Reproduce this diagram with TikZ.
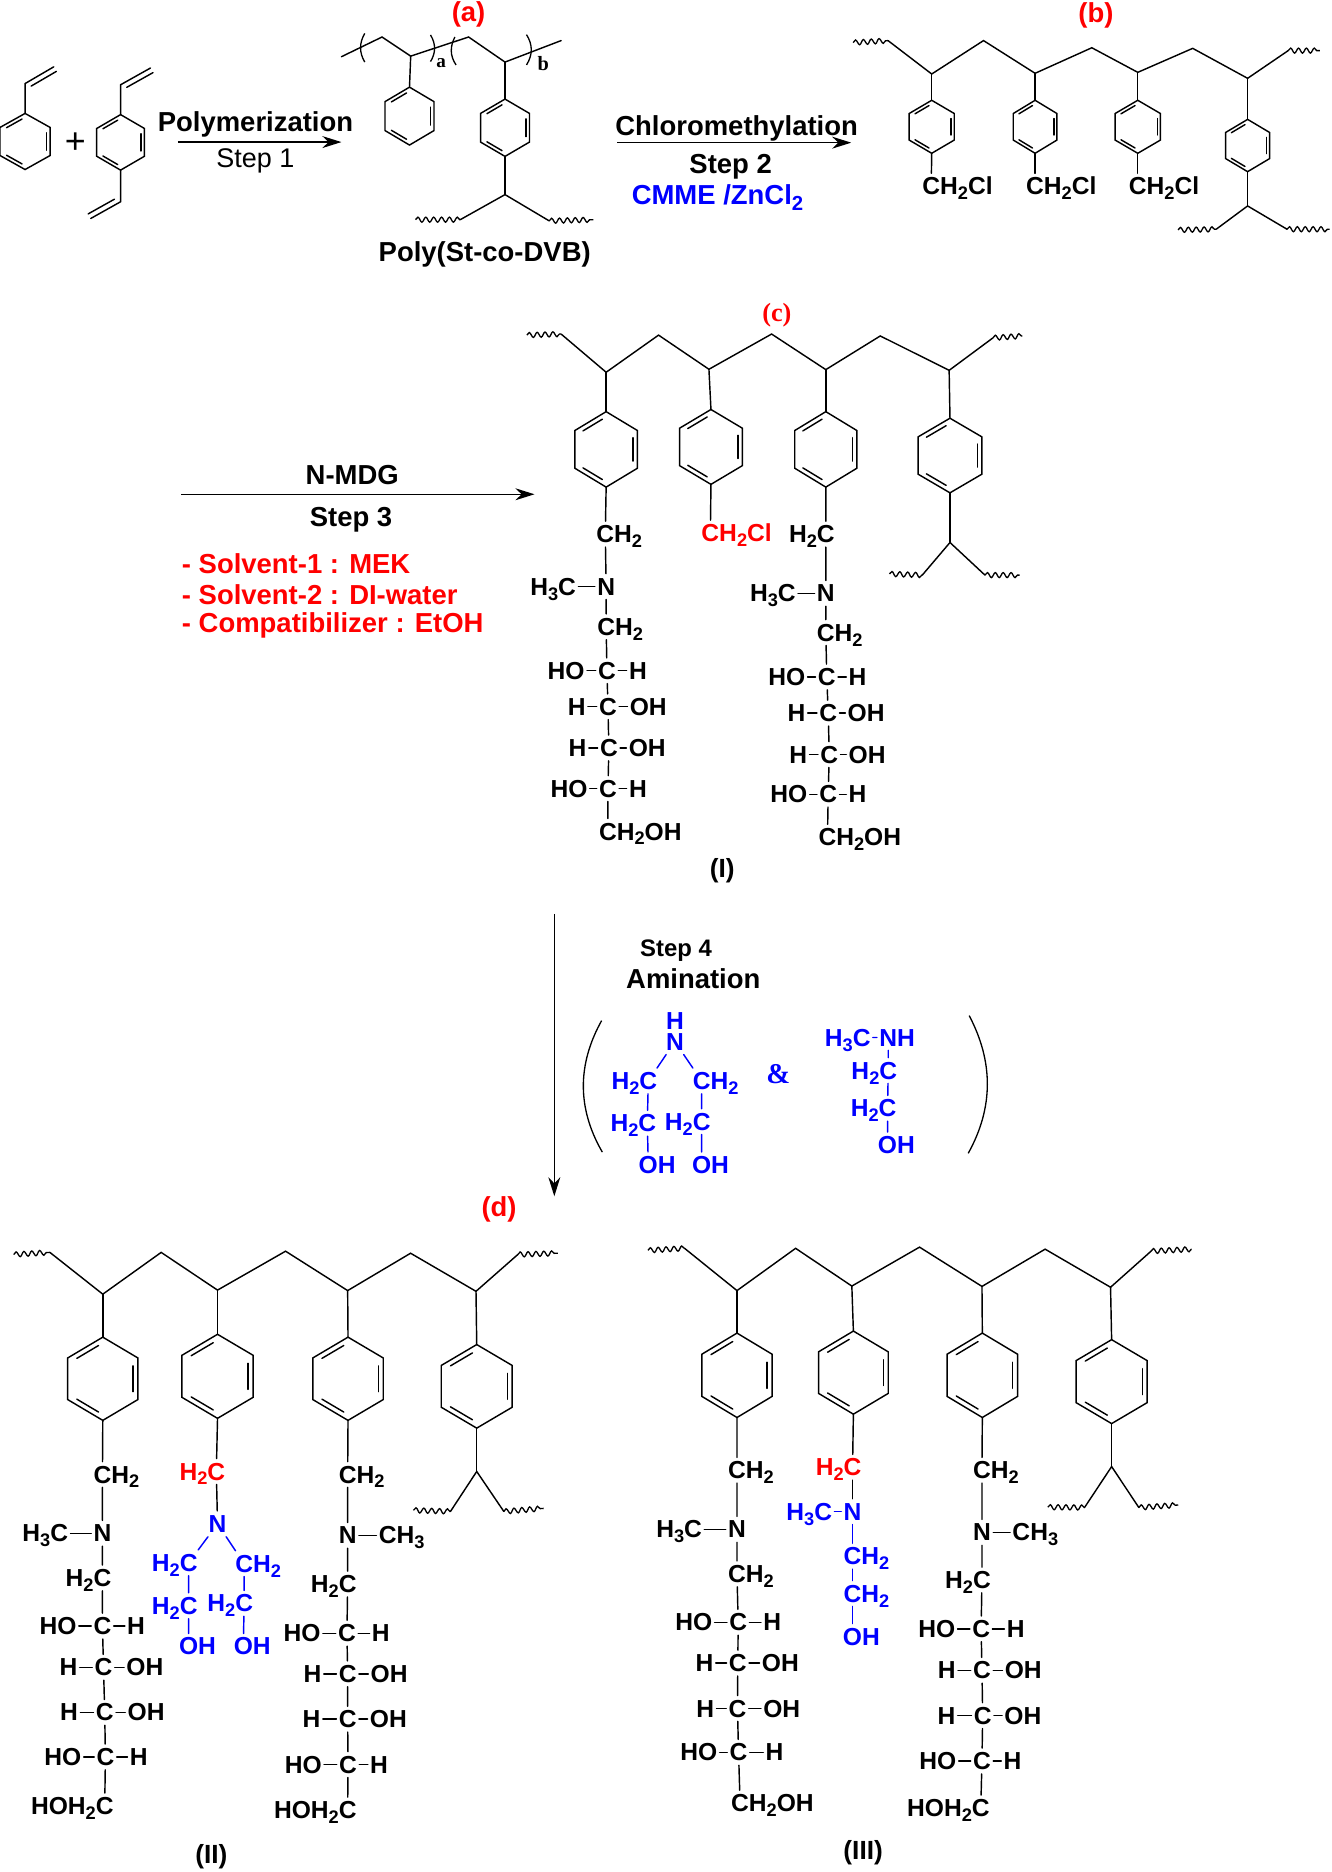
\documentclass[tikz,border=0pt]{standalone}
\usepackage{fontspec}
\setmainfont{Liberation Sans}
\newfontfamily\tms{Liberation Serif}
\usetikzlibrary{arrows.meta,calc,decorations.pathmorphing}
\newcommand\Sb[1]{\raisebox{-0.2em}{\scalebox{.74}{#1}}}
\newcommand\fatom{\fontsize{10.3}{12}\selectfont\bfseries}
\newcommand\fbig{\fontsize{11.5}{13}\selectfont\bfseries}
\tikzset{
 bond/.style={line width=0.6pt,line cap=round},
 wavy/.style={line width=0.55pt,decorate,decoration={snake,amplitude=1.05pt,segment length=3.3pt}},
 atm/.style={font=\fatom,inner xsep=0.8pt,inner ysep=1.6pt,text height=7.2pt,text depth=0pt},
 lab/.style={font=\fbig,inner sep=0pt},
 arr/.style={line width=0.6pt,-{Stealth[length=8pt,width=5pt]}}
}
% ring: name, cx, top, bottom, left
\newcommand\inbond[3]{\draw[bond] ($($(#1)!.14!(#2)$)!.14!(#3)$) -- ($($(#2)!.14!(#1)$)!.14!(#3)$);}
\newcommand\benz[5]{%
 \coordinate (#1t) at (#2,#3);
 \coordinate (#1b) at (#2,#4);
 \coordinate (#1c) at (#2,{(#3+#4)/2});
 \coordinate (#1ul) at (#5,{#3+0.25*(#4-#3)});
 \coordinate (#1ll) at (#5,{#3+0.75*(#4-#3)});
 \coordinate (#1ur) at ({2*#2-#5},{#3+0.25*(#4-#3)});
 \coordinate (#1lr) at ({2*#2-#5},{#3+0.75*(#4-#3)});
 \draw[bond] (#1t) -- (#1ur) -- (#1lr) -- (#1b) -- (#1ll) -- (#1ul) -- cycle;
 \inbond{#1t}{#1ul}{#1c}\inbond{#1ur}{#1lr}{#1c}\inbond{#1ll}{#1b}{#1c}}
\newcommand\vinyl[3]{\draw[bond] (#1) -- (#2) -- (#3);
 \draw[bond] ($(#2)!.12!(#3)!2.2pt!-90:(#3)$) -- ($(#3)!2.2pt!90:(#2)$);}
% backbone of 11 points
\newcommand\backbone[2]{%
 \foreach \x/\y [count=\i] in {#2} {\coordinate (#1\i) at (\x,\y);}
 \draw[wavy] (#11) -- (#12);
 \draw[bond] (#12) -- (#13) -- (#14) -- (#15) -- (#16) -- (#17) -- (#18) -- (#19) -- (#110);
 \draw[wavy] (#110) -- (#111);}
% crosslink: name, ring-bottom, list junction/left/right/waveL/waveR
\newcommand\xlink[3]{%
 \foreach \x/\y [count=\i] in {#3} {\coordinate (#1\i) at (\x,\y);}
 \draw[bond] (#2) -- (#11);
 \draw[bond] (#12) -- (#11) -- (#13);
 \draw[wavy] (#14) -- (#12);
 \draw[wavy] (#13) -- (#15);}
\newcommand\At[4]{\node[atm] (#1) at (#2,#3) {#4};}
\newcommand\Cc[7]{\At{#1}{#2}{#3}{C}\At{#1L}{#4}{#3}{#5}\At{#1R}{#6}{#3}{#7}%
 \draw[bond] (#1L) -- (#1) -- (#1R);}
% parenthesis: start x,y; x of the bulge; end x,y
\newcommand\Paren[5]{\draw[line width=0.55pt] (#1,#2) .. controls ({#1+1.333*(#3-#1)},{#2+(#5-#2)/3}) and ({#4+1.333*(#3-#4)},{#2+2*(#5-#2)/3}) .. (#4,#5);}
\begin{document}
\begin{tikzpicture}[x=0.5pt,y=-0.5pt]
\useasboundingbox (0,0) rectangle (1115,1568);
%%%% monomers
\benz{sty}{21}{95}{142}{0}
\coordinate (sv1) at (21,70); \coordinate (sv2) at (45,56);
\vinyl{styt}{sv1}{sv2}
\benz{dvb}{101}{96}{142.5}{81}
\coordinate (dv1) at (101,71); \coordinate (dv2) at (126,57);
\vinyl{dvbt}{dv1}{dv2}
\coordinate (dv3) at (101,169); \coordinate (dv4) at (76,183);
\vinyl{dvbb}{dv3}{dv4}
\node[font=\fontsize{15}{16}\selectfont,inner sep=0pt] (plus) at (63,120) {+};
\coordinate (a1s) at (149,119); \coordinate (a1e) at (286,119);
\draw[arr] (a1s) -- (a1e);
\node[lab] (tpoly) at (214,104) {Polymerization};
\node[font=\fontsize{11.3}{13}\selectfont,inner sep=0pt] (tst1) at (214,135) {Step 1};
%%%% (a)
\node[lab,red] (la) at (392.5,12) {(a)};
\foreach \n/\x/\y in {p1/286/47.5,p2/320/31,p3/344/47,p4/392.5/31,p5/423/52,p6/470/34}{\coordinate (\n) at (\x,\y);}
\draw[bond] (p1) -- (p2) -- (p3) -- (p4) -- (p5) -- (p6);
\Paren{305.5}{28}{302}{305.5}{52}
\Paren{360.6}{29.3}{364}{360.6}{51.6}
\Paren{381}{31}{378}{382}{54.4}
\Paren{441}{29}{445}{441}{54.4}
\node[font=\tms\fontsize{8}{9}\selectfont\bfseries,inner sep=0pt] (tas) at (369.5,53) {a};
\node[font=\tms\fontsize{8.5}{9}\selectfont\bfseries,inner sep=0pt] (tbs) at (455,53) {b};
\benz{ph}{343}{73}{121.5}{322.5}
\draw[bond] (p3) -- (pht);
\benz{pd}{423}{83}{131}{402.5}
\draw[bond] (p5) -- (pdt);
\xlink{px}{pdb}{423/163,385.5/184,460/185,348/184,497/184}
\node[lab] (tpsd) at (406,213) {Poly(St-co-DVB)};
%%%% arrow 2
\coordinate (a2s) at (517,119.5); \coordinate (a2e) at (713,119.5);
\draw[arr] (a2s) -- (a2e);
\node[lab] (tcm) at (617,107.5) {Chloromethylation};
\node[lab] (tst2) at (612,140) {Step 2};
\node[lab,blue] (tcmme) at (601,165.5) {CMME /ZnCl\Sb{2}};
%%%% (b)
\node[lab,red] (lb) at (918,13) {(b)};
\backbone{b}{714.6/35.7,743.8/34,780.4/62,823.8/34,867/61.4,914.5/40,953/60.6,999/40.5,1045/65.6,1079/42.4,1105.5/42.4}
\benz{br1}{780.4}{84}{128.4}{761.5}
\benz{br2}{867}{84}{128.4}{848.7}
\benz{br3}{953}{84}{128.4}{934}
\benz{br4}{1045}{100}{143.8}{1026.6}
\draw[bond] (b3) -- (br1t); \draw[bond] (b5) -- (br2t); \draw[bond] (b7) -- (br3t); \draw[bond] (b9) -- (br4t);
\At{bc1}{780}{156}{C\rlap{H\Sb{2}Cl}}
\At{bc2}{867}{156}{C\rlap{H\Sb{2}Cl}}
\At{bc3}{953}{156}{C\rlap{H\Sb{2}Cl}}
\draw[bond] (br1b) -- (bc1); \draw[bond] (br2b) -- (bc2); \draw[bond] (br3b) -- (bc3);
\xlink{bx}{br4b}{1045/172.5,1018.7/192,1078/192,986.7/192.6,1113.7/192}
%%%% arrow 3
\coordinate (a3s) at (152,414); \coordinate (a3e) at (447.7,414);
\draw[arr] (a3s) -- (a3e);
\node[lab] (tmdg) at (295,398) {N-MDG};
\node[lab] (tst3) at (294,435) {Step 3};
\node[lab,red,anchor=west] (ts1) at (152,472) {- Solvent-1 : MEK};
\node[lab,red,anchor=west] (ts2) at (152,498) {- Solvent-2 : DI-water};
\node[lab,red,anchor=west] (ts3) at (152,524) {- Compatibilizer : EtOH};
%%%% (c)
\node[font=\tms\fontsize{11}{12}\selectfont\bfseries,red,inner sep=0pt] (lc) at (650.7,263.7) {(c)};
\backbone{c}{441.3/280.7,470/279.8,507.7/311.8,551.6/280.7,593.8/309.3,646.3/279.8,691.7/309.6,737.3/281.4,795/310.2,831.7/283,856.3/281.4}
\benz{cr1}{507.7}{344.8}{408}{481.5}
\benz{cr2}{595.5}{343}{405.7}{569.2}
\benz{cr3}{691.7}{344.8}{408}{665.7}
\benz{cr4}{795.7}{350.3}{412.8}{769}
\draw[bond] (c3) -- (cr1t); \draw[bond] (c5) -- (cr2t); \draw[bond] (c7) -- (cr3t); \draw[bond] (c9) -- (cr4t);
\xlink{cx}{cr4b}{795.7/454.4,772.5/481.7,825/481.7,745/480.7,854/481.7}
% chain 1
\At{ca1}{507}{447.4}{C\rlap{H\Sb{2}}}
\At{ca2}{507.7}{491.3}{N}
\At{ca3}{475}{491.3}{\llap{H\Sb{3}}C}
\At{ca4}{507.7}{525}{C\rlap{H\Sb{2}}}
\Cc{ca5}{508.4}{561.8}{474.2}{HO}{534.3}{H}
\Cc{ca6}{509.2}{592}{483}{H}{543}{OH}
\Cc{ca7}{510}{626.5}{483.8}{H}{542.1}{OH}
\Cc{ca8}{509.2}{660.5}{476.6}{HO}{534.3}{H}
\At{ca9}{509.2}{696.4}{C\rlap{H\Sb{2}OH}}
\draw[bond] (cr1b) -- (ca1) -- (ca2) -- (ca4) -- (ca5) -- (ca6) -- (ca7) -- (ca8) -- (ca9);
\draw[bond] (ca3) -- (ca2);
% chain 2
\At{cb1}{595}{446.4}{\color{red}C\rlap{H\Sb{2}Cl}}
\draw[bond] (cr2b) -- (cb1);
% chain 3
\At{cc1}{691.7}{447.4}{\llap{H\Sb{2}}C}
\At{cc2}{691.7}{497}{N}
\At{cc3}{659}{497}{\llap{H\Sb{3}}C}
\At{cc4}{691.7}{529.8}{C\rlap{H\Sb{2}}}
\Cc{cc5}{692.5}{567}{659}{HO}{718.3}{H}
\Cc{cc6}{693.7}{597.3}{667.1}{H}{725.5}{OH}
\Cc{cc7}{694.6}{632}{668.6}{H}{726.3}{OH}
\Cc{cc8}{693.7}{665.3}{660.8}{HO}{718.3}{H}
\At{cc9}{693.1}{701.2}{C\rlap{H\Sb{2}OH}}
\draw[bond] (cr3b) -- (cc1) -- (cc2) -- (cc4) -- (cc5) -- (cc6) -- (cc7) -- (cc8) -- (cc9);
\draw[bond] (cc3) -- (cc2);
\node[font=\fontsize{11}{13}\selectfont\bfseries,inner sep=0pt] (lI) at (605,729.5) {(I)};
%%%% step 4
\coordinate (a4s) at (464.3,765.5); \coordinate (a4e) at (464.3,1002);
\draw[arr] (a4s) -- (a4e);
\node[font=\fontsize{10}{12}\selectfont\bfseries,inner sep=0pt] (tst4) at (566.2,796) {Step 4};
\node[lab] (tam) at (580.7,820) {Amination};
\Paren{503.9}{854.9}{488.6}{504.5}{965}
\Paren{811.8}{850.7}{827}{811}{966}
\begin{scope}[blue]
\At{sa0}{565.3}{854.9}{H}
\At{sa1}{565.3}{872.5}{N}
\At{sa2}{543}{905.4}{\llap{H\Sb{2}}C}
\At{sa3}{587.7}{905.4}{C\rlap{H\Sb{2}}}
\At{sa4}{542.2}{940.8}{\llap{H\Sb{2}}C}
\At{sa5}{587.7}{939.5}{\llap{H\Sb{2}}C}
\At{sa6}{543}{975.7}{O\rlap{H}}
\At{sa7}{587.7}{975.7}{O\rlap{H}}
\draw[bond] (sa1) -- (sa2) -- (sa4) -- (sa6);
\draw[bond] (sa1) -- (sa3) -- (sa5) -- (sa7);
\node[font=\tms\fontsize{12}{13}\selectfont\bfseries,inner sep=0pt] (amp) at (651.9,899.5) {\&};
\At{sb1}{721.7}{869}{\llap{H\Sb{3}}C}
\At{sb2}{744}{869}{N\rlap{H}}
\At{sb3}{744}{896.7}{\llap{H\Sb{2}}C}
\At{sb4}{743.4}{928.3}{\llap{H\Sb{2}}C}
\At{sb5}{743.4}{959}{O\rlap{H}}
\draw[bond] (sb1) -- (sb2) -- (sb3) -- (sb4) -- (sb5);
\end{scope}
\node[lab,red] (ld) at (418,1013) {(d)};
%%%% (II)
\backbone{d}{11.5/1050.8,41.8/1049,86.1/1084,135/1049,182.2/1080.6,239.2/1048,291.2/1081,343.9/1049.7,398.7/1081.6,433.7/1050.8,467.2/1049.7}
\benz{dr1}{86.1}{1120}{1189.7}{56.7}
\benz{dr2}{182.2}{1117.6}{1188}{152.4}
\benz{dr3}{291.5}{1120}{1189.7}{262}
\benz{dr4}{399.3}{1126.2}{1196.2}{369.6}
\draw[bond] (d3) -- (dr1t); \draw[bond] (d5) -- (dr2t); \draw[bond] (d7) -- (dr3t); \draw[bond] (d9) -- (dr4t);
\xlink{dx}{dr4b}{399.3/1232.5,377.3/1266,422/1266,346.3/1265,455.4/1263.4}
\At{da1}{85.8}{1235}{C\rlap{H\Sb{2}}}
\At{da2}{85.8}{1284.3}{N}
\At{da3}{49.6}{1284.3}{\llap{H\Sb{3}}C}
\At{da4}{85.8}{1321.7}{\llap{H\Sb{2}}C}
\Cc{da5}{85.8}{1362}{48.6}{HO}{114}{H}
\Cc{da6}{86.7}{1396.5}{57.3}{H}{121.4}{OH}
\Cc{da7}{87.7}{1434.3}{57.9}{H}{122.4}{OH}
\Cc{da8}{88.3}{1471.6}{52.7}{HO}{116.2}{H}
\At{da9}{87.7}{1512.7}{\llap{HOH\Sb{2}}C}
\draw[bond] (dr1b) -- (da1) -- (da2) -- (da4) -- (da5) -- (da6) -- (da7) -- (da8) -- (da9);
\draw[bond] (da3) -- (da2);
\At{db1}{181.2}{1232.5}{\color{red}\llap{H\Sb{2}}C}
\draw[bond] (dr2b) -- (db1);
\begin{scope}[blue]
\At{db2}{182.2}{1276.4}{N}
\At{db3}{158}{1309}{\llap{H\Sb{2}}C}
\At{db4}{204.5}{1309.7}{C\rlap{H\Sb{2}}}
\At{db5}{158}{1345}{\llap{H\Sb{2}}C}
\At{db6}{204.5}{1343}{\llap{H\Sb{2}}C}
\At{db7}{158}{1379}{O\rlap{H}}
\At{db8}{203.8}{1379}{O\rlap{H}}
\draw[bond] (db2) -- (db3) -- (db5) -- (db7);
\draw[bond] (db2) -- (db4) -- (db6) -- (db8);
\end{scope}
\draw[bond] (db1) -- (db2);
\At{dc1}{291.2}{1235}{C\rlap{H\Sb{2}}}
\At{dc2}{291.2}{1286}{N}
\At{dc3}{324.7}{1286}{C\rlap{H\Sb{3}}}
\At{dc4}{291.2}{1326.8}{\llap{H\Sb{2}}C}
\Cc{dc5}{290.6}{1368}{253}{HO}{319}{H}
\Cc{dc6}{291.2}{1402}{261.8}{H}{325.9}{OH}
\Cc{dc7}{291.2}{1440}{261}{H}{325.3}{OH}
\Cc{dc8}{291.5}{1478}{254}{HO}{317.5}{H}
\At{dc9}{291.2}{1516}{\llap{HOH\Sb{2}}C}
\draw[bond] (dr3b) -- (dc1) -- (dc2) -- (dc4) -- (dc5) -- (dc6) -- (dc7) -- (dc8) -- (dc9);
\draw[bond] (dc2) -- (dc3);
\node[font=\fontsize{11}{13}\selectfont\bfseries,inner sep=0pt] (lII) at (177,1555.5) {(II)};
%%%% (III)
\backbone{e}{542.7/1047.3,573.4/1045.6,617.3/1081,666.4/1045.6,713.5/1077.2,770.2/1044.6,822.5/1077.5,875.4/1046.3,930.2/1078.2,964.1/1048,998.1/1046.3}
\benz{er1}{617.3}{1116.6}{1187.3}{587.9}
\benz{er2}{714.8}{1114.9}{1184.5}{685.6}
\benz{er3}{822.8}{1116.6}{1187.3}{793.3}
\benz{er4}{931.1}{1122.1}{1192.4}{901.3}
\draw[bond] (e3) -- (er1t); \draw[bond] (e5) -- (er2t); \draw[bond] (e7) -- (er3t); \draw[bond] (e9) -- (er4t);
\xlink{ex}{er4b}{931.1/1228.4,908.4/1262.7,953.9/1262.7,877.6/1262.4,986.9/1260.6}
\At{ea1}{617.3}{1231.5}{C\rlap{H\Sb{2}}}
\At{ea2}{617.3}{1281}{N}
\At{ea3}{580.5}{1281}{\llap{H\Sb{3}}C}
\At{ea4}{617.3}{1318.3}{C\rlap{H\Sb{2}}}
\Cc{ea5}{618.3}{1358.8}{581.1}{HO}{646.8}{H}
\Cc{ea6}{618}{1393}{590.1}{H}{653.6}{OH}
\Cc{ea7}{617.7}{1431}{590.7}{H}{654.8}{OH}
\Cc{ea8}{618.6}{1467.8}{585.3}{HO}{648.8}{H}
\At{ea9}{619.9}{1510.3}{C\rlap{H\Sb{2}OH}}
\draw[bond] (er1b) -- (ea1) -- (ea2) -- (ea4) -- (ea5) -- (ea6) -- (ea7) -- (ea8) -- (ea9);
\draw[bond] (ea3) -- (ea2);
\At{eb1}{714.1}{1229}{\color{red}\llap{H\Sb{2}}C}
\draw[bond] (er2b) -- (eb1);
\begin{scope}[blue]
\At{eb2}{714.1}{1266.1}{N}
\At{eb3}{689.5}{1266.1}{\llap{H\Sb{3}}C}
\At{eb4}{714.1}{1303.5}{C\rlap{H\Sb{2}}}
\At{eb5}{714.1}{1334.7}{C\rlap{H\Sb{2}}}
\At{eb6}{714.1}{1370.7}{O\rlap{H}}
\draw[bond] (eb3) -- (eb2) -- (eb4) -- (eb5) -- (eb6);
\end{scope}
\draw[bond] (eb1) -- (eb2);
\At{ec1}{822.5}{1231.5}{C\rlap{H\Sb{2}}}
\At{ec2}{822.5}{1283.5}{N}
\At{ec3}{855.5}{1283.5}{C\rlap{H\Sb{3}}}
\At{ec4}{822.5}{1323.4}{\llap{H\Sb{2}}C}
\Cc{ec5}{821.8}{1364.3}{784.6}{HO}{850.7}{H}
\Cc{ec6}{822.5}{1399}{793}{H}{857.1}{OH}
\Cc{ec7}{823.1}{1437}{792.7}{H}{856.8}{OH}
\Cc{ec8}{822.5}{1475}{785.6}{HO}{848.1}{H}
\At{ec9}{821.5}{1514.4}{\llap{HOH\Sb{2}}C}
\draw[bond] (er3b) -- (ec1) -- (ec2) -- (ec4) -- (ec5) -- (ec6) -- (ec7) -- (ec8) -- (ec9);
\draw[bond] (ec2) -- (ec3);
\node[font=\fontsize{11}{13}\selectfont\bfseries,inner sep=0pt] (lIII) at (723,1552) {(III)};
\end{tikzpicture}
\end{document}
